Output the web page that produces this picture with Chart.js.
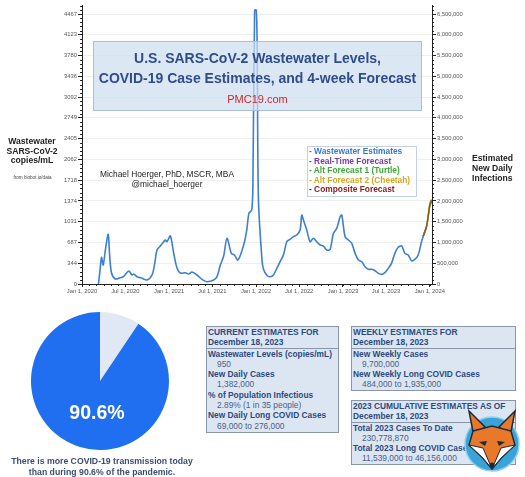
<!DOCTYPE html>
<html>
<head>
<meta charset="utf-8">
<script src="https://cdn.jsdelivr.net/npm/chart.js@4.4.1/dist/chart.umd.min.js"></script>
<style>
body { margin: 0; background: #fff; font-family: 'Liberation Sans', Arial, sans-serif; }
#page { position: relative; width: 525px; height: 477px; overflow: hidden; }
.abs { position: absolute; white-space: nowrap; }
#trend { position: absolute; left: 0; top: 0; }
#pie { position: absolute; left: 31px; top: 312px; }
.titlebox { left: 93px; top: 41px; width: 329px; height: 70px; box-sizing: border-box;
  background: rgba(206, 222, 240, 0.72); border: 1px solid #a9bfdc; text-align: center; }
.t1 { position: absolute; left: 0; right: 0; top: 6px; font: bold 14px/20px 'Liberation Sans', Arial, sans-serif; color: #2f4d8a; }
.t2 { position: absolute; left: 0; right: 0; top: 50px; font: 11px/14px 'Liberation Sans', Arial, sans-serif; color: #c8282e; }
.side { font: bold 8.6px/9.7px 'Liberation Sans', Arial, sans-serif; color: #222; }
.legend { left: 307px; top: 146px; width: 110px; height: 51px; box-sizing: border-box;
  background: rgba(255,255,255,0.92); border: 1px solid #c3d2e6; padding-left: 1px;
  font: bold 8.4px/9.6px 'Liberation Sans', Arial, sans-serif; }
.tbl { position: absolute; box-sizing: border-box; background: #dce6f2; border: 1px solid #8a96a8;
  font: bold 8.4px/10.3px 'Liberation Sans', Arial, sans-serif; color: #2d4a7f; white-space: nowrap; overflow: hidden; }
.tbl .hd { padding: 0 1px; border-bottom: 1px solid #8a96a8; }
.tbl .bd { padding: 0 1px; }
.tbl .vl { font-weight: normal; color: #4b5f86; padding-left: 9px; }
</style>
</head>
<body>
<div id="page">
  <canvas id="trend" width="525" height="300"></canvas>

  <div class="abs titlebox">
    <div class="t1">U.S. SARS-CoV-2 Wastewater Levels,<br>COVID-19 Case Estimates, and 4-week Forecast</div>
    <div class="t2">PMC19.com</div>
  </div>

  <div class="abs side" style="left:0;top:137px;width:64px;text-align:center;">Wastewater<br>SARS-CoV-2<br>copies/mL</div>
  <div class="abs" style="left:0;top:175px;width:65px;text-align:center;font:4.6px 'Liberation Sans';color:#444;">from biobot.io/data</div>
  <div class="abs side" style="left:472px;top:153px;line-height:10px;">Estimated<br>New Daily<br>Infections</div>

  <div class="abs" style="left:87px;top:169px;width:160px;text-align:center;font:8.4px/10px 'Liberation Sans';color:#222;">Michael Hoerger, PhD, MSCR, MBA<br>@michael_hoerger</div>

  <div class="abs legend">
    <div style="color:#3a78c8">- Wastewater Estimates</div>
    <div style="color:#7a3aa0">- Real-Time Forecast</div>
    <div style="color:#3aaa35">- Alt Forecast 1 (Turtle)</div>
    <div style="color:#d9a520">- Alt Forecast 2 (Cheetah)</div>
    <div style="color:#8b2020">- Composite Forecast</div>
  </div>

  <canvas id="pie" width="138" height="138"></canvas>
  <div class="abs" style="left:47px;top:400px;width:100px;text-align:center;font:bold 19.5px/24px 'Liberation Sans';color:#fff;">90.6%</div>
  <div class="abs" style="left:2px;top:456px;width:200px;text-align:center;font:bold 8.7px/10.5px 'Liberation Sans';color:#3b4d73;">There is more COVID-19 transmission today<br>than during 90.6% of the pandemic.</div>

  <div class="tbl" style="left:206px;top:326px;width:133px;height:107px;">
    <div class="hd">CURRENT ESTIMATES FOR<br>December 18, 2023</div>
    <div class="bd">
      <div>Wastewater Levels (copies/mL)</div><div class="vl">950</div>
      <div>New Daily Cases</div><div class="vl">1,382,000</div>
      <div>% of Population Infectious</div><div class="vl">2.89% (1 in 35 people)</div>
      <div>New Daily Long COVID Cases</div><div class="vl">69,000 to 276,000</div>
    </div>
  </div>

  <div class="tbl" style="left:351px;top:326px;width:165px;height:65px;">
    <div class="hd">WEEKLY ESTIMATES FOR<br>December 18, 2023</div>
    <div class="bd">
      <div>New Weekly Cases</div><div class="vl">9,700,000</div>
      <div>New Weekly Long COVID Cases</div><div class="vl">484,000 to 1,935,000</div>
    </div>
  </div>

  <div class="tbl" style="left:351px;top:400px;width:165px;height:65px;">
    <div class="hd">2023 CUMULATIVE ESTIMATES AS OF<br>December 18, 2023</div>
    <div class="bd">
      <div>Total 2023 Cases To Date</div><div class="vl">230,778,870</div>
      <div>Total 2023 Long COVID Cases</div><div class="vl">11,539,000 to 46,156,000</div>
    </div>
  </div>

  <svg class="abs" style="left:462px;top:408px;" width="60" height="64" viewBox="0 0 60 64">
    <circle cx="30" cy="36" r="27" fill="#3aa3d8" stroke="#8fd0ee" stroke-width="1.5"/>
    <polygon points="7,3 23,19 12,29" fill="#e8782a" stroke="#1e2a3a" stroke-width="1.5"/>
    <polygon points="53,3 37,19 48,29" fill="#e8782a" stroke="#1e2a3a" stroke-width="1.5"/>
    <polygon points="11,23 30,18 49,23 53,37 39,50 30,61 21,50 7,37" fill="#e8782a" stroke="#1e2a3a" stroke-width="1.5"/>
    <polygon points="7,37 21,40 30,61 21,50" fill="#fff" stroke="#1e2a3a" stroke-width="1"/>
    <polygon points="53,37 39,40 30,61 39,50" fill="#fff" stroke="#1e2a3a" stroke-width="1"/>
    <polygon points="17,34 25,33 23,38" fill="#1e2a3a"/>
    <polygon points="43,34 35,33 37,38" fill="#1e2a3a"/>
    <circle cx="30" cy="57" r="2.5" fill="#1e2a3a"/>
  </svg>
</div>

<script>
// wastewater levels (copies/mL)
const wwDates = [
  '2020-03-10', '2020-03-16', '2020-03-23', '2020-03-30', '2020-04-08', '2020-04-20', '2020-04-26',
  '2020-05-04', '2020-05-20', '2020-06-10', '2020-06-23', '2020-07-15', '2020-07-29', '2020-08-05',
  '2020-08-19', '2020-09-09', '2020-09-30', '2020-10-21', '2020-11-01', '2020-11-11', '2020-11-25',
  '2020-12-16', '2020-12-23', '2021-01-06', '2021-01-20', '2021-02-03', '2021-02-17', '2021-03-10',
  '2021-03-24', '2021-04-07', '2021-04-28', '2021-05-19', '2021-06-09', '2021-07-07', '2021-07-21',
  '2021-08-04', '2021-08-18', '2021-09-01', '2021-09-19', '2021-10-02', '2021-10-17', '2021-11-08',
  '2021-11-23', '2021-12-02', '2021-12-14', '2021-12-19', '2021-12-26', '2022-01-02', '2022-01-06',
  '2022-01-11', '2022-01-26', '2022-02-01', '2022-02-16', '2022-03-01', '2022-03-15', '2022-03-29',
  '2022-04-12', '2022-04-26', '2022-05-10', '2022-05-24', '2022-06-07', '2022-06-21', '2022-07-05',
  '2022-07-12', '2022-07-19', '2022-08-02', '2022-08-16', '2022-08-30', '2022-09-13', '2022-09-27',
  '2022-10-11', '2022-10-25', '2022-11-08', '2022-11-22', '2022-12-06', '2022-12-20', '2022-12-27',
  '2023-01-10', '2023-01-24', '2023-02-07', '2023-02-21', '2023-03-07', '2023-03-21', '2023-04-04',
  '2023-04-18', '2023-05-02', '2023-05-16', '2023-05-30', '2023-06-13', '2023-06-26', '2023-07-10',
  '2023-07-24', '2023-08-07', '2023-08-21', '2023-09-05', '2023-09-18', '2023-10-02', '2023-10-16',
  '2023-10-30', '2023-11-13', '2023-11-27', '2023-12-11', '2023-12-18'
];
const wwValues = [
  0, 200, 441, 314, 560, 822, 480,
  182, 83, 105, 121, 215, 149, 165,
  121, 94, 66, 149, 330, 562, 628,
  728, 700, 794, 513, 265, 182, 187,
  165, 198, 149, 77, 38, 66, 121,
  314, 463, 756, 507, 480, 397, 617,
  893, 1169, 1224, 1700, 4530, 4530, 3800,
  1400, 400, 250, 140, 121, 149, 259,
  369, 480, 700, 739, 783, 810, 893,
  1141, 1060, 893, 700, 756, 700, 645,
  628, 562, 573, 838, 921, 1113, 1141,
  783, 728, 673, 507, 397, 369, 286,
  243, 243, 220, 176, 160, 187, 259,
  342, 507, 607, 628, 507, 480, 386,
  408, 480, 700, 865, 950
];

// 4-week forecasts
const fcDates = ['2023-12-04', '2023-12-18', '2023-12-25', '2024-01-01', '2024-01-08'];
const realTime = [790, 950, 1120, 1310, 1380];
const turtle = [790, 950, 1100, 1285, 1355];
const cheetah = [790, 950, 1150, 1345, 1400];
const composite = [790, 950, 1125, 1318, 1385];

// axes
const xTickDates = ['2020-01-01', '2020-07-01', '2021-01-01', '2021-07-01', '2022-01-01',
  '2022-07-01', '2023-01-01', '2023-07-01', '2024-01-01'];
const xTickLabels = ['Jan 1, 2020', 'Jul 1, 2020', 'Jan 1, 2021', 'Jul 1, 2021', 'Jan 1, 2022',
  'Jul 1, 2022', 'Jan 1, 2023', 'Jul 1, 2023', 'Jan 1, 2024'];
const leftTicks = [0, 344, 687, 1031, 1374, 1718, 2062, 2405, 2749, 3092, 3436, 3780, 4123, 4467];
const rightTicks = [0, 500000, 1000000, 1500000, 2000000, 2500000, 3000000, 3500000,
  4000000, 4500000, 5000000, 5500000, 6000000, 6500000];
const xEnd = '2024-01-10';
const yMax = 4616;

const pieLabels = ['Lower', 'Higher'];
const pieValues = [9.4, 90.6];

// ----------
const day0 = Date.parse('2020-01-01');
const dayOf = s => (Date.parse(s) - day0) / 86400000;
const pts = (dates, vals) => dates.map((d, i) => ({ x: dayOf(d), y: vals[i] }));
const ratio = rightTicks[rightTicks.length - 1] / leftTicks[leftTicks.length - 1];

function line(label, dates, vals, color, order, width) {
  return {
    label: label, data: pts(dates, vals), borderColor: color, borderWidth: width,
    pointRadius: 0, fill: false, tension: 0.3, order: order
  };
}

// minor tick marks on the axes
const minorTicks = {
  id: 'minorTicks',
  afterDraw(chart) {
    const ctx = chart.ctx;
    const y = chart.scales.y, y1 = chart.scales.y1, x = chart.scales.x;
    ctx.save();
    ctx.strokeStyle = '#222';
    ctx.lineWidth = 1;
    ctx.beginPath();
    for (let i = 0; i < leftTicks.length; i++) {
      const step = (i < leftTicks.length - 1 ? leftTicks[i + 1] - leftTicks[i] : leftTicks[1]) / 5;
      for (let k = 1; k < 5; k++) {
        const v = leftTicks[i] + step * k;
        if (v > yMax) break;
        const p = Math.round(y.getPixelForValue(v)) + 0.5;
        ctx.moveTo(y.right - 2, p); ctx.lineTo(y.right, p);
        ctx.moveTo(y1.left, p); ctx.lineTo(y1.left + 2, p);
      }
    }
    const d = new Date(day0);
    for (let m = 0; m < 49; m++) {
      const t = Date.UTC(d.getUTCFullYear(), d.getUTCMonth() + m, 1);
      const p = Math.round(x.getPixelForValue((t - day0) / 86400000)) + 0.5;
      ctx.moveTo(p, x.top); ctx.lineTo(p, x.top + 2);
    }
    ctx.stroke();
    ctx.restore();
  }
};

const tickFont = { family: "'Liberation Sans', Arial, sans-serif", size: 5.8 };

new Chart(document.getElementById('trend'), {
  type: 'line',
  data: {
    datasets: [
      line('Wastewater Estimates', wwDates, wwValues, '#3d7fd1', 5, 1.6),
      line('Real-Time Forecast', fcDates, realTime, '#7a3aa0', 4, 1.3),
      line('Alt Forecast 1 (Turtle)', fcDates, turtle, '#3aaa35', 3, 1.3),
      line('Alt Forecast 2 (Cheetah)', fcDates, cheetah, '#d9a520', 2, 1.3),
      line('Composite Forecast', fcDates, composite, '#8b5a20', 1, 1.3)
    ]
  },
  options: {
    responsive: false,
    animation: false,
    devicePixelRatio: 1,
    layout: { padding: { top: 5, left: 0, right: 0, bottom: 0 } },
    plugins: { legend: { display: false }, tooltip: { enabled: false } },
    scales: {
      x: {
        type: 'linear', min: 0, max: dayOf(xEnd),
        afterBuildTicks: s => { s.ticks = xTickDates.map(d => ({ value: dayOf(d) })); },
        afterFit: s => { s.height = 16; },
        ticks: { callback: (v, i) => xTickLabels[i], font: tickFont, color: '#555', maxRotation: 0, autoSkip: false, padding: 1 },
        grid: { drawOnChartArea: false, tickLength: 3, tickColor: '#222' },
        border: { color: '#222' }
      },
      y: {
        position: 'left', min: 0, max: yMax,
        afterBuildTicks: s => { s.ticks = leftTicks.map(v => ({ value: v })); },
        afterFit: s => { s.width = 82; },
        ticks: { callback: (v, i) => String(leftTicks[i]), font: tickFont, color: '#555', padding: 1 },
        grid: { color: '#efefef', tickLength: 4, tickColor: '#222' },
        border: { color: '#222' }
      },
      y1: {
        position: 'right', min: 0, max: yMax * ratio,
        afterBuildTicks: s => { s.ticks = rightTicks.map(v => ({ value: v })); },
        afterFit: s => { s.width = 93; },
        ticks: { callback: (v, i) => rightTicks[i].toLocaleString('en-US'), font: tickFont, color: '#555', padding: 1 },
        grid: { drawOnChartArea: false, tickLength: 4, tickColor: '#222' },
        border: { color: '#222' }
      }
    }
  },
  plugins: [minorTicks]
});

new Chart(document.getElementById('pie'), {
  type: 'pie',
  data: {
    labels: pieLabels,
    datasets: [{ data: pieValues, backgroundColor: ['#dfe8f4', '#1f6ff0'], borderWidth: 0 }]
  },
  options: {
    responsive: false,
    animation: false,
    devicePixelRatio: 1,
    layout: { padding: 0 },
    plugins: { legend: { display: false }, tooltip: { enabled: false } }
  }
});
</script>
</body>
</html>
